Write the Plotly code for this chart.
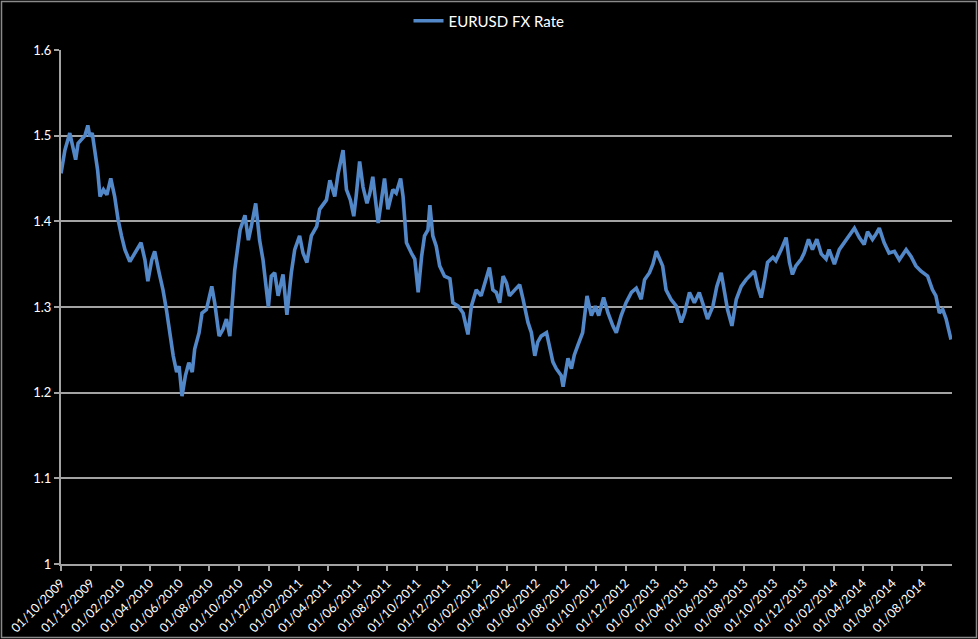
import pandas as pd
import plotly.graph_objects as go

# Days since 2009-10-01 and EURUSD rate
start_date = "2009-10-01"
day_offsets = [
    0, 8, 18, 25, 30, 35, 42, 49, 55, 59, 64, 70, 75, 80, 87, 94, 102, 110, 117, 124,
    131, 141, 152, 164, 172, 178, 186, 192, 201, 209, 216, 223, 230, 237, 242, 248, 255,
    262, 269, 274, 283, 289, 298, 309, 315, 324, 332, 339, 346,
    356, 367, 377, 384, 390, 399, 407, 414, 425, 431, 438, 445, 455, 463, 472, 479, 489,
    496, 504, 513, 524, 530, 544, 551, 561, 568, 578, 585, 593, 600, 605, 612, 619, 627,
    633, 639, 650, 657, 663, 670, 680, 687, 696, 701, 708,
    718, 725, 732, 739, 745, 752, 756, 762, 769, 776, 786, 797, 803, 814, 824, 834, 841,
    851, 861, 868, 878, 885, 892, 899, 906, 913, 919, 930, 940, 947, 957, 964, 971, 977,
    984, 995, 1001, 1008, 1015, 1025, 1029, 1039, 1046, 1052, 1059,
    1069, 1078, 1087, 1095, 1102, 1112, 1121, 1131, 1138, 1148, 1158, 1169, 1179, 1189,
    1196, 1206, 1213, 1220, 1227, 1233, 1240, 1250, 1261, 1271, 1278, 1288, 1298, 1308,
    1317, 1325, 1336, 1344, 1353, 1360, 1366, 1375, 1384, 1394, 1404, 1414, 1421,
    1428, 1435, 1442, 1448, 1459, 1465, 1476, 1486, 1493, 1499, 1506, 1517, 1523, 1532,
    1540, 1549, 1558, 1568, 1574, 1585, 1595, 1605, 1616, 1626, 1636, 1646, 1653, 1663,
    1670, 1677, 1687, 1697, 1708, 1718, 1732, 1742, 1752, 1762, 1776, 1786, 1793, 1800,
    1807, 1814, 1824,
]
eurusd = [
    1.456, 1.483, 1.503, 1.487, 1.472, 1.491, 1.495, 1.500, 1.512, 1.499, 1.503, 1.480,
    1.460, 1.429, 1.437, 1.431, 1.450, 1.429, 1.402, 1.383, 1.367, 1.353, 1.363, 1.375,
    1.355, 1.330, 1.355, 1.365, 1.340, 1.320, 1.297, 1.266, 1.243, 1.224, 1.231, 1.196,
    1.220, 1.235, 1.224, 1.251, 1.270, 1.293, 1.297, 1.324, 1.305, 1.266, 1.274, 1.286,
    1.266,
    1.343, 1.390, 1.407, 1.378, 1.394, 1.421, 1.378, 1.355, 1.300, 1.336, 1.340, 1.313,
    1.338, 1.291, 1.340, 1.367, 1.383, 1.363, 1.352, 1.383, 1.394, 1.414, 1.425, 1.448,
    1.429, 1.456, 1.483, 1.437, 1.425, 1.406, 1.430, 1.470, 1.440, 1.421, 1.433, 1.452,
    1.398, 1.425, 1.450, 1.414, 1.437, 1.433, 1.450, 1.429, 1.375,
    1.363, 1.356, 1.317, 1.359, 1.383, 1.390, 1.419, 1.383, 1.371, 1.348, 1.336, 1.333,
    1.305, 1.301, 1.293, 1.268, 1.301, 1.320, 1.313, 1.328, 1.346, 1.320, 1.317, 1.305,
    1.336, 1.328, 1.313, 1.320, 1.326, 1.309, 1.282, 1.270, 1.243, 1.259, 1.266, 1.270,
    1.255, 1.236, 1.228, 1.220, 1.207, 1.240, 1.228, 1.244, 1.255,
    1.270, 1.313, 1.290, 1.301, 1.290, 1.311, 1.293, 1.278, 1.270, 1.290, 1.305, 1.317,
    1.322, 1.309, 1.332, 1.340, 1.350, 1.365, 1.355, 1.348, 1.320, 1.309, 1.301, 1.282,
    1.293, 1.317, 1.305, 1.317, 1.301, 1.286, 1.301, 1.324, 1.340, 1.313, 1.297, 1.278,
    1.309, 1.324, 1.332, 1.338, 1.342,
    1.324, 1.311, 1.332, 1.352, 1.358, 1.354, 1.367, 1.381, 1.352, 1.338, 1.348, 1.356,
    1.363, 1.379, 1.367, 1.379, 1.362, 1.356, 1.367, 1.350, 1.367, 1.375, 1.383, 1.392,
    1.381, 1.373, 1.388, 1.379, 1.385, 1.392, 1.375, 1.363, 1.365, 1.355, 1.367, 1.359,
    1.348, 1.342, 1.336, 1.320, 1.313, 1.293, 1.297, 1.286, 1.262,
]

tick_dates = pd.date_range("2009-10-01", "2014-08-01", freq="2MS")
tick_labels = [d.strftime("%d/%m/%Y") for d in tick_dates]
y_ticks = [1, 1.1, 1.2, 1.3, 1.4, 1.5, 1.6]
y_labels = ["1", "1.1", "1.2", "1.3", "1.4", "1.5", "1.6"]

dates = pd.to_datetime(start_date) + pd.to_timedelta(day_offsets, unit="D")

W, H = 978, 639
ml, mr, mt, mb = 61, 26, 50, 75
pw, ph = W - ml - mr, H - mt - mb

fig = go.Figure()
fig.add_trace(go.Scatter(
    x=dates, y=eurusd, mode="lines", name="EURUSD FX Rate",
    line=dict(color="#5287c8", width=3.6),
))

grid_col = "#a3a3a3"
fig.update_layout(
    width=W, height=H,
    margin=dict(l=ml, r=mr, t=mt, b=mb, autoexpand=False),
    paper_bgcolor="black", plot_bgcolor="black",
    font=dict(family="Lato, DejaVu Sans, sans-serif", color="white", size=12),
    showlegend=True,
    legend=dict(
        orientation="h", xref="container", yref="container",
        x=0.5, xanchor="center", y=0.993, yanchor="top",
        font=dict(size=15, color="white"), bgcolor="rgba(0,0,0,0)",
    ),
    xaxis=dict(
        range=["2009-10-01", "2014-10-01"],
        tickvals=tick_dates, ticktext=tick_labels, tickangle=-45,
        showgrid=False, showline=True, linecolor=grid_col, linewidth=2,
        ticks="outside", ticklen=5, tickcolor=grid_col, tickwidth=2,
        tickfont=dict(size=12.5, color="white"), zeroline=False,
    ),
    yaxis=dict(
        range=[1, 1.6], tickvals=y_ticks, ticktext=y_labels,
        showgrid=True, gridcolor=grid_col, gridwidth=1.5,
        showline=True, linecolor=grid_col, linewidth=2,
        ticks="outside", ticklen=5, tickcolor=grid_col, tickwidth=2,
        tickfont=dict(size=13, color="white"), zeroline=False,
    ),
    shapes=[dict(
        type="rect", xref="paper", yref="paper",
        x0=(1.5 - ml) / pw, x1=(W - 1.5 - ml) / pw,
        y0=(mt + ph - (H - 1.5)) / ph, y1=(mt + ph - 1.5) / ph,
        line=dict(color="#8a8a8a", width=1.5), fillcolor="rgba(0,0,0,0)",
        layer="below",
    )],
)

fig.write_html("out.html")
